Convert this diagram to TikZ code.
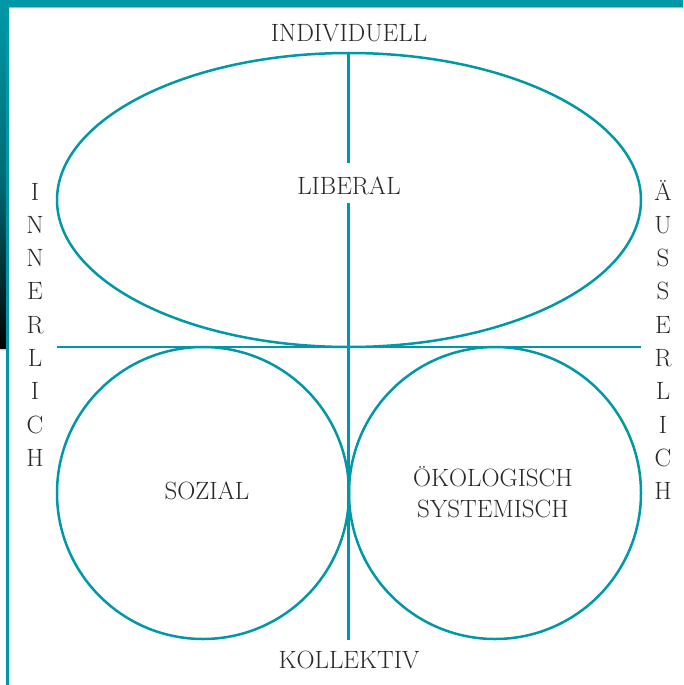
\documentclass[tikz,border=0pt]{standalone}
\usepackage{fontspec}
\begin{document}
\begin{tikzpicture}[x=1pt,y=-1pt,
  every node/.style={inner sep=0pt,text=textgray,font=\fontsize{25}{30.5}\selectfont},
  outline/.style={draw=teal0,line width=2.5pt},
  axisline/.style={draw=teal0,line width=2.5pt},
  letterbox/.style={anchor=base}]
\definecolor{teal0}{RGB}{0,152,166}
\definecolor{textgray}{RGB}{40,40,40}
\useasboundingbox (0,0) rectangle (683,685);
\fill[white] (0,0) rectangle (683,685);
% frame: top band and shaded left band
\fill[teal0] (0,0) rectangle (683,7);
\draw[teal0!50,line width=0.8pt] (7,7.6) -- (683,7.6);
\shade[top color=teal0,bottom color=black,middle color=teal0!70!black] (0,7) rectangle (7,350);
\fill[gray!25] (0,349) rectangle (7,350.5);
\draw[teal0,line width=2.5pt] (7.5,7) -- (7.5,685);
% quadrant shapes
\draw[outline] (349,200) ellipse [x radius=292, y radius=147];
\draw[outline] (203,493) circle [radius=146];
\draw[outline] (495,493) circle [radius=146];
% labels
\node[letterbox] (indiv) at (349,42) {INDIVIDUELL};
\node[letterbox] (liberal) at (349,194) {LIBERAL};
\node[letterbox] (sozial) at (207,499) {SOZIAL};
\node[letterbox,align=center] (oeko) at (493,517) {ÖKOLOGISCH\\SYSTEMISCH};
\node[letterbox] (kollektiv) at (349,668) {KOLLEKTIV};
% axes
\coordinate (axtop) at (348.5,54);
\coordinate (axgapA) at (348.5,163);
\coordinate (axgapB) at (348.5,203);
\coordinate (axbot) at (348.5,640);
\coordinate (axleft) at (57,347);
\coordinate (axright) at (641,347);
\draw[axisline] (axtop) -- (axgapA);
\draw[axisline] (axgapB) -- (axbot);
\draw[axisline] (axleft) -- (axright);
% vertical words
\foreach \ch [count=\i from 0] in {I,N,N,E,R,L,I,C,H}
  \node[letterbox] (inn\i) at (35,200+33.3*\i) {\ch};
\foreach \ch [count=\i from 0] in {Ä,U,S,S,E,R,L,I,C,H}
  \node[letterbox] (aus\i) at (663,200+33.3*\i) {\ch};
\end{tikzpicture}
\end{document}
